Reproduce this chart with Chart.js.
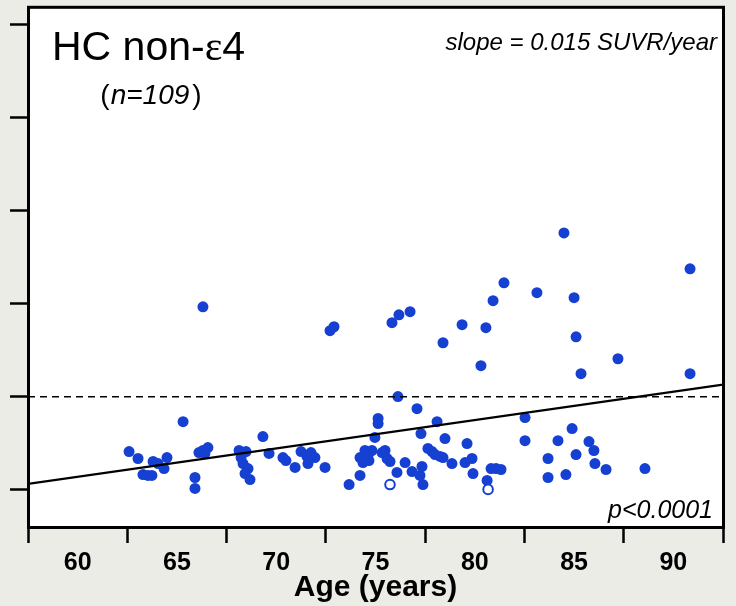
<!DOCTYPE html>
<html>
<head>
<meta charset="utf-8">
<script src="https://cdn.jsdelivr.net/npm/chart.js@4.4.1/dist/chart.umd.min.js"></script>
<style>
  html, body { margin: 0; padding: 0; background: #ecece7; }
  #wrap { width: 736px; height: 606px; }
</style>
</head>
<body>
<div id="wrap"><canvas id="c" width="736" height="606"></canvas></div>
<script>
// ---- data ----
const filledAge = [
  66.31,72.71,72.91,75.83,76.18,76.74,78.40,79.36,80.56,80.31,80.92,81.47,83.13,84.49,85.00,85.10,85.35,87.21,90.84,90.84,76.13,
  62.59,63.04,63.80,63.54,63.74,64.50,64.35,65.31,65.91,65.91,66.11,66.31,66.56,68.13,68.48,68.33,68.43,68.68,69.33,69.64,70.34,70.49,70.95,71.25,71.55,71.95,71.60,72.46,
  73.67,74.22,74.37,74.47,74.82,74.22,74.97,75.13,75.13,75.48,75.58,75.73,76.08,76.49,76.84,77.09,77.24,77.29,77.34,77.39,77.64,78.00,78.10,78.40,78.50,78.85,79.51,79.61,79.86,79.91,80.62,80.82,81.07,81.32,82.53,82.53,83.69,83.69,84.19,84.59,84.90,85.10,85.75,86.00,86.05,86.61,88.57,
  63.29,64.05,66.41,68.23,68.58,71.75,74.62,75.33,77.85,78.25,74.67
];
const filledSuvr = [
  1.983,1.855,1.876,1.898,1.940,1.957,1.790,1.887,1.871,1.667,2.016,2.112,2.059,2.380,2.032,1.822,1.624,1.704,2.187,1.624,1.501,
  1.205,1.168,1.152,1.077,1.077,1.173,1.114,1.366,1.066,1.007,1.200,1.211,1.227,1.211,1.205,1.141,1.087,1.055,1.286,1.195,1.173,1.157,1.120,1.205,1.179,1.173,1.141,1.120,
  1.028,1.173,1.146,1.211,1.211,1.077,1.281,1.383,1.356,1.211,1.168,1.152,1.093,1.146,1.098,1.436,1.077,1.302,1.125,1.028,1.222,1.189,1.366,1.173,1.275,1.141,1.146,1.248,1.168,1.087,1.050,1.114,1.114,1.109,1.388,1.264,1.168,1.066,1.264,1.082,1.329,1.189,1.259,1.211,1.141,1.109,1.114,
  1.082,1.141,1.195,1.173,1.114,1.200,1.184,1.200,1.205,1.179,1.157
];
const openAge  = [75.73, 80.67];
const openSuvr = [1.028, 1.002];
const fitAge  = [57.5, 92.5];
const fitSuvr = [1.032, 1.565];
const cutoffAge  = [57.5, 92.5];
const cutoffSuvr = [1.5, 1.5];
const xLabelValues = [60, 65, 70, 75, 80, 85, 90];
const xTickMarks   = [57.5, 62.5, 67.5, 72.5, 77.5, 82.5, 87.5, 92.5];
const yTickMarks   = [1.0, 1.5, 2.0, 2.5, 3.0, 3.5];

const toXY = (xs, ys) => xs.map((x, i) => ({ x: x, y: ys[i] }));
const SANS = '"Liberation Sans", Arial, Helvetica, sans-serif';
const SERIF = '"Liberation Serif", "Times New Roman", serif';
const BLUE = 'rgb(22,64,210)';

const framePlugin = {
  id: 'frame',
  beforeDraw(chart) {
    const { ctx, chartArea: a } = chart;
    ctx.save();
    ctx.fillStyle = '#ffffff';
    ctx.fillRect(a.left, a.top, a.right - a.left, a.bottom - a.top);
    ctx.restore();
  },
  afterDraw(chart) {
    const { ctx, chartArea: a } = chart;
    ctx.save();
    ctx.strokeStyle = '#000';
    ctx.lineWidth = 3;
    ctx.strokeRect(a.left + 0.5, a.top + 0.5, a.right - a.left, a.bottom - a.top);

    ctx.fillStyle = '#000';
    ctx.textBaseline = 'alphabetic';
    // Title: HC non-ε4
    let x = a.left + 24, y = a.top + 53;
    ctx.textAlign = 'left';
    ctx.font = '41px ' + SANS;
    ctx.fillText('HC non-', x, y);
    x += ctx.measureText('HC non-').width;
    ctx.font = '42px ' + SERIF;
    ctx.fillText('ε', x, y);
    x += ctx.measureText('ε').width;
    ctx.font = '41px ' + SANS;
    ctx.fillText('4', x, y);

    // (n=109)
    const fs = 28;
    ctx.font = fs + 'px ' + SANS;
    const wP1 = ctx.measureText('(').width;
    const wP2 = ctx.measureText(')').width;
    ctx.font = 'italic ' + fs + 'px ' + SANS;
    const wN = ctx.measureText('n=109').width;
    const total = wP1 + wN + wP2 + 4;
    x = 151 - total / 2; y = a.top + 97;
    ctx.font = fs + 'px ' + SANS;
    ctx.fillText('(', x, y);
    x += wP1 + 1;
    ctx.font = 'italic ' + fs + 'px ' + SANS;
    ctx.fillText('n=109', x, y);
    x += wN + 3;
    ctx.font = fs + 'px ' + SANS;
    ctx.fillText(')', x, y);

    // slope
    ctx.textAlign = 'right';
    ctx.font = 'italic 24px ' + SANS;
    ctx.fillText('slope = 0.015 SUVR/year', a.right - 6, a.top + 43.5);
    // p value
    ctx.font = 'italic 25px ' + SANS;
    ctx.fillText('p<0.0001', a.right - 10, a.bottom - 9);
    ctx.restore();
  }
};

new Chart(document.getElementById('c'), {
  type: 'scatter',
  data: {
    datasets: [
      {
        type: 'line', data: toXY(fitAge, fitSuvr), borderColor: '#000', borderWidth: 2.2,
        pointRadius: 0, showLine: true, order: 0, fill: false
      },
      {
        type: 'line', data: toXY(cutoffAge, cutoffSuvr), borderColor: '#000', borderWidth: 1.6,
        borderDash: [7, 5], pointRadius: 0, showLine: true, order: 0, fill: false
      },
      {
        data: toXY(filledAge, filledSuvr), backgroundColor: BLUE, borderColor: BLUE,
        borderWidth: 0, pointRadius: 5.5, order: 2
      },
      {
        data: toXY(openAge, openSuvr), backgroundColor: '#ffffff', borderColor: BLUE,
        borderWidth: 2, pointRadius: 4.8, order: 1
      }
    ]
  },
  options: {
    responsive: false,
    animation: false,
    devicePixelRatio: 1,
    layout: { padding: { top: 6, right: 13, left: 0, bottom: 0 } },
    plugins: { legend: { display: false }, tooltip: { enabled: false } },
    scales: {
      x: {
        type: 'linear', min: 57.5, max: 92.5,
        afterBuildTicks: s => {
          s.ticks = xTickMarks.concat(xLabelValues).sort((a, b) => a - b).map(v => ({ value: v }));
        },
        afterFit: s => { s.height = 79; },
        border: { display: false },
        grid: {
          drawOnChartArea: false, drawTicks: true, tickLength: 16, tickWidth: 2.5,
          tickColor: c => (c.tick && xTickMarks.includes(c.tick.value)) ? '#000' : 'rgba(0,0,0,0)'
        },
        ticks: {
          autoSkip: false, maxRotation: 0, minRotation: 0, padding: 5, color: '#000',
          font: { family: SANS, size: 25, weight: 'bold' },
          callback: v => xLabelValues.includes(v) ? String(v) : ''
        },
        title: {
          display: true, text: 'Age (years)', color: '#000',
          font: { family: SANS, size: 30, weight: 'bold' },
          padding: { top: 0, bottom: 0 }
        }
      },
      y: {
        type: 'linear', min: 0.8, max: 3.595,
        afterBuildTicks: s => { s.ticks = yTickMarks.map(v => ({ value: v })); },
        afterFit: s => { s.width = 28; },
        border: { display: false },
        grid: { drawOnChartArea: false, drawTicks: true, tickLength: 18, tickWidth: 2.5, tickColor: '#000' },
        ticks: { display: false }
      }
    }
  },
  plugins: [framePlugin]
});
</script>
</body>
</html>
